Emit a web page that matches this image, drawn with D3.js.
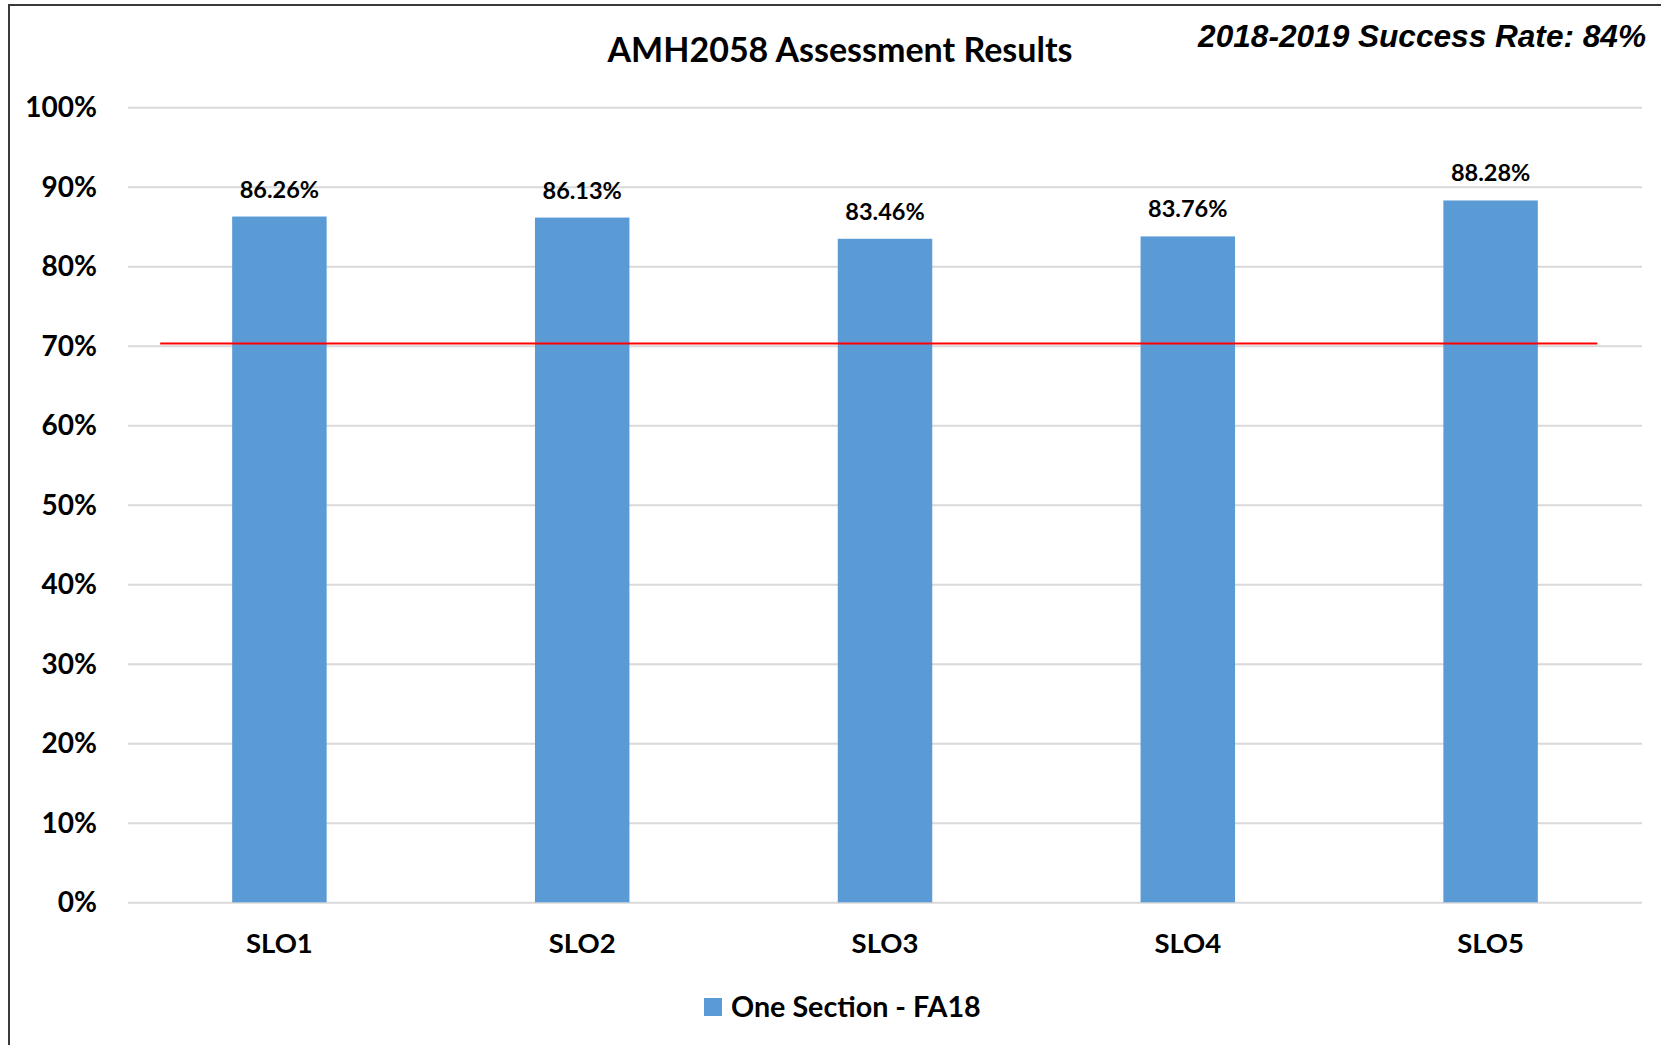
<!DOCTYPE html>
<html>
<head>
<meta charset="utf-8">
<script src="https://cdn.jsdelivr.net/npm/d3@7"></script>
<style>
  body { margin: 0; background: #fff; }
  text { font-family: Lato, "Open Sans", sans-serif; font-weight: bold; fill: #000; }
</style>
</head>
<body>
<div id="chart"></div>
<script>
// chart values
const categories = ["SLO1", "SLO2", "SLO3", "SLO4", "SLO5"];
const seriesName = "One Section - FA18";
const values = [0.8626, 0.8613, 0.8346, 0.8376, 0.8828];
const valueLabels = ["86.26%", "86.13%", "83.46%", "83.76%", "88.28%"];
const yTicks = [0, 0.1, 0.2, 0.3, 0.4, 0.5, 0.6, 0.7, 0.8, 0.9, 1.0];
const target = 0.703;
const title = "AMH2058 Assessment Results";
const subtitle = "2018-2019 Success Rate: 84%";

const W = 1661, H = 1045;
const margin = {top: 107.3, right: 19, bottom: 142.7, left: 128},
      width = W - margin.left - margin.right,
      height = H - margin.top - margin.bottom;

const svg = d3.select("#chart")
  .append("svg")
    .attr("width", W)
    .attr("height", H);

// outer border (runs off the right and bottom edges)
svg.append("rect")
  .attr("x", 9).attr("y", 5)
  .attr("width", W).attr("height", H)
  .attr("fill", "none")
  .attr("stroke", "#3a3a3a")
  .attr("stroke-width", 2);

const g = svg.append("g")
  .attr("transform", "translate(" + margin.left + "," + margin.top + ")");

let x = d3.scaleBand()
  .domain(categories)
  .range([0, width])
  .paddingInner(0.688)
  .paddingOuter(0.344);

let y = d3.scaleLinear()
  .domain([0, 1])
  .range([height, 0]);

// y axis + gridlines
let yAxis = g.append("g")
  .call(d3.axisLeft(y).tickValues(yTicks).tickFormat(d3.format(".0%"))
    .tickSize(-width).tickPadding(31));
yAxis.select(".domain").remove();
yAxis.selectAll(".tick line").attr("stroke", "#d9d9d9").attr("stroke-width", 2);
yAxis.selectAll(".tick text").style("font-size", "28px").attr("dy", "0.33em");

// x axis
let xAxis = g.append("g")
  .attr("transform", "translate(0," + height + ")")
  .call(d3.axisBottom(x).tickSize(0).tickPadding(31));
xAxis.select(".domain").remove();
xAxis.selectAll(".tick text").style("font-size", "27.5px");

// bars
g.selectAll(".bar")
  .data(values)
  .enter().append("rect")
    .attr("class", "bar")
    .attr("x", (d, i) => x(categories[i]))
    .attr("y", d => y(d))
    .attr("width", x.bandwidth())
    .attr("height", d => y(0) - y(d))
    .attr("fill", "#5b9bd5");

// value labels
g.selectAll(".lbl")
  .data(values)
  .enter().append("text")
    .attr("class", "lbl")
    .attr("x", (d, i) => x(categories[i]) + x.bandwidth() / 2)
    .attr("y", d => y(d) - 19)
    .attr("text-anchor", "middle")
    .style("font-size", "23.5px")
    .text((d, i) => valueLabels[i]);

// target line
g.append("line")
  .attr("x1", x(categories[0]) - 72)
  .attr("x2", x(categories[4]) + x.bandwidth() + 59.5)
  .attr("y1", y(target))
  .attr("y2", y(target))
  .attr("stroke", "#ff0000")
  .attr("stroke-width", 2);

// title
svg.append("text")
  .attr("x", 840).attr("y", 62)
  .attr("text-anchor", "middle")
  .style("font-size", "34px")
  .text(title);

svg.append("text")
  .attr("x", 1646).attr("y", 46.5)
  .attr("text-anchor", "end")
  .style("font-family", "'Liberation Sans', Arial, sans-serif")
  .style("font-style", "italic")
  .style("font-size", "31.6px")
  .text(subtitle);

// legend
let legend = svg.append("g")
  .attr("transform", "translate(704,998)");
legend.append("rect")
  .attr("width", 18).attr("height", 18)
  .attr("fill", "#5b9bd5");
legend.append("text")
  .attr("x", 27).attr("y", 18.5)
  .style("font-size", "28.7px")
  .text(seriesName);
</script>
</body>
</html>
